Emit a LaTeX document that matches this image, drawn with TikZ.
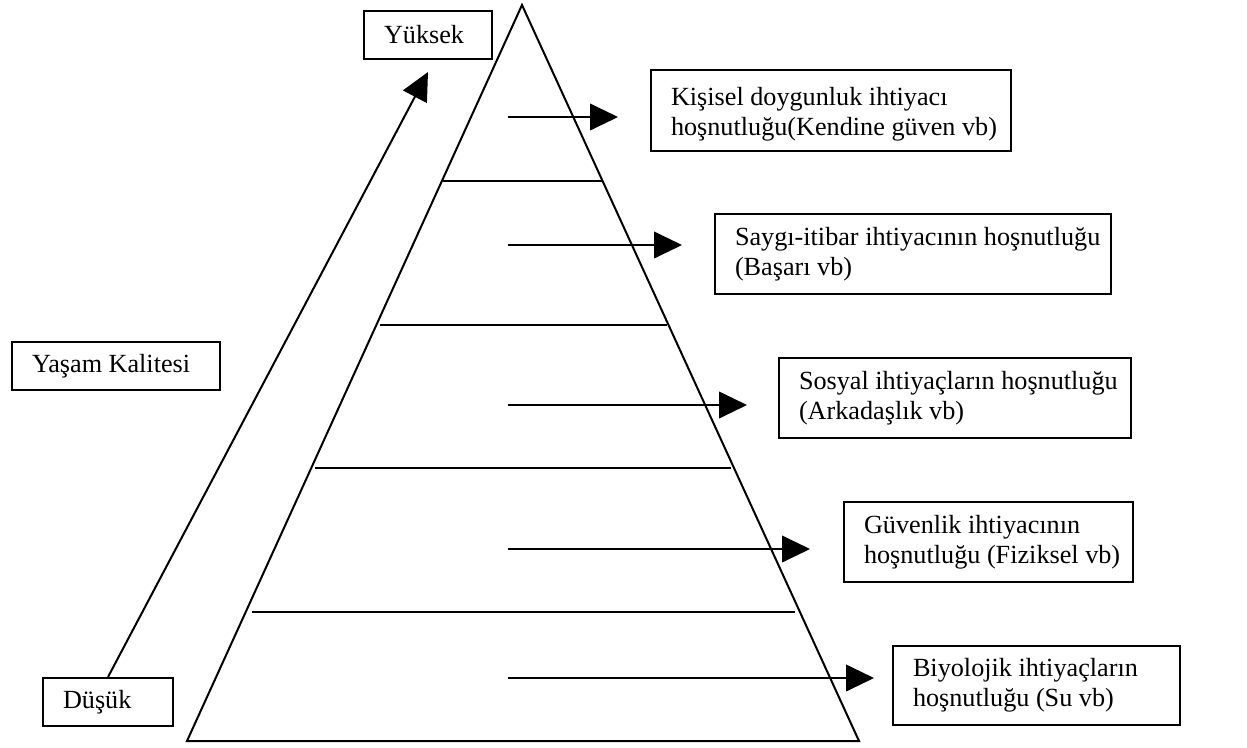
\documentclass[tikz,border=0pt]{standalone}
\usepackage{fontspec}
\setmainfont{Liberation Serif}
\usepackage{tikz}
\usetikzlibrary{arrows.meta,calc}
\tikzset{every picture/.style={line width=1.5pt}}

\begin{document}
\begin{tikzpicture}[x=0.75pt,y=0.75pt,yscale=-1,xscale=1,
  box/.style={draw, anchor=north west, inner sep=0pt, minimum height=60pt},
  smallbox/.style={box, minimum height=36pt},
  boxtext/.style={anchor=west, inner xsep=15pt, inner ysep=0pt, align=left,
    font=\fontsize{19.65pt}{22.5pt}\selectfont},
  pointer/.style={-{Triangle[length=21pt,width=20pt]}}]
\useasboundingbox (0,0) rectangle (1247,747);

%Shape: Pyramid
\draw (522,5) -- (859,741) -- (187,741) -- cycle ;
%Straight Lines: levels
\draw (443,181) -- (602,181) ;
\draw (380,325) -- (667,325) ;
\draw (315,468) -- (731,468) ;
\draw (252,612) -- (795,612) ;

%Shape: Rectangles on the left
\node [smallbox, minimum width=96pt] (yuksek) at (363,10) {};
\node [boxtext] (yuksektxt) at (yuksek.west) {Yüksek};
\node [smallbox, minimum width=156pt] (yasam) at (11,341) {};
\node [boxtext] (yasamtxt) at (yasam.west) {Yaşam Kalitesi};
\node [smallbox, minimum width=97.5pt] (dusuk) at (42,677) {};
\node [boxtext] (dusuktxt) at (dusuk.west) {Düşük};

%Shape: Rectangles on the right
\node [box, minimum width=270pt, minimum height=60.75pt] (need1) at (650,69) {};
\node [boxtext] (need1txt) at ([yshift=3pt]need1.west) {Kişisel doygunluk ihtiyacı\\hoşnutluğu(Kendine güven vb)};
\node [box, minimum width=297pt] (need2) at (714,213) {};
\node [boxtext] (need2txt) at (need2.west) {Saygı-itibar ihtiyacının hoşnutluğu\\(Başarı vb)};
\node [box, minimum width=264pt] (need3) at (778,357) {};
\node [boxtext] (need3txt) at (need3.west) {Sosyal ihtiyaçların hoşnutluğu\\(Arkadaşlık vb)};
\node [box, minimum width=217pt] (need4) at (843,501) {};
\node [boxtext] (need4txt) at (need4.west) {Güvenlik ihtiyacının\\hoşnutluğu (Fiziksel vb)};
\node [box, minimum width=215pt, minimum height=59.25pt] (need5) at (892,645) {};
\node [boxtext] (need5txt) at (need5.west) {Biyolojik ihtiyaçların\\hoşnutluğu (Su vb)};

%Straight Lines: arrows out of the pyramid
\coordinate (lvl1) at (508,117) ;
\coordinate (lvl2) at (508,245) ;
\coordinate (lvl3) at (508,405) ;
\coordinate (lvl4) at (508,549) ;
\coordinate (lvl5) at (508,678) ;
\draw [pointer, shorten >=24pt] (lvl1) -- (lvl1 -| need1.west) ;
\draw [pointer, shorten >=24pt] (lvl2) -- (lvl2 -| need2.west) ;
\draw [pointer, shorten >=23.25pt] (lvl3) -- (lvl3 -| need3.west) ;
\draw [pointer, shorten >=24.75pt] (lvl4) -- (lvl4 -| need4.west) ;
\draw [pointer, shorten >=13.5pt] (lvl5) -- (lvl5 -| need5.west) ;

%Straight Lines: quality of life
\draw [pointer] (dusuk.north) -- ($(yuksek.south)+(0,12)$) ;

\end{tikzpicture}
\end{document}
